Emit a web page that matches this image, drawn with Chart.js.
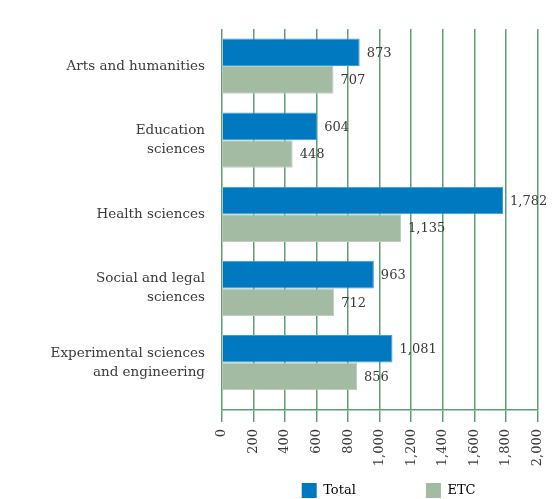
<!DOCTYPE html>
<html><head><meta charset="utf-8">
<script src="https://cdn.jsdelivr.net/npm/chart.js@4"></script>
<style>html,body{margin:0;padding:0;background:#fff;}#wrap{width:560px;height:499px;}</style>
</head><body><div id="wrap"><canvas id="c" width="560" height="499"></canvas></div>
<script>
const categories = [
  ["Arts and humanities"],
  ["Education", "sciences"],
  ["Health sciences"],
  ["Social and legal", "sciences"],
  ["Experimental sciences", "and engineering"]
];
const totalValues = [873, 604, 1782, 963, 1081];
const etcValues = [707, 448, 1135, 712, 856];
const seriesNames = ["Total", "ETC"];
const xTickValues = [0, 200, 400, 600, 800, 1000, 1200, 1400, 1600, 1800, 2000];

const FONT = '"DejaVu Serif", serif';
const TEXT = '#3a3a3a';
const GRID = '#5f9e70';
const fmt = v => String(v).replace(/\B(?=(\d{3})+(?!\d))/g, ',');
const legendPad = ['                ', '              '];

const valueLabels = {
  id: 'valueLabels',
  afterDatasetsDraw(chart) {
    const ctx = chart.ctx;
    ctx.save();
    ctx.font = '13px ' + FONT;
    ctx.fillStyle = TEXT;
    ctx.textAlign = 'left';
    ctx.textBaseline = 'middle';
    chart.data.datasets.forEach((ds, di) => {
      chart.getDatasetMeta(di).data.forEach((bar, i) => {
        ctx.fillText(fmt(ds.data[i].x), bar.x + 7, bar.y + 1);
      });
    });
    ctx.restore();
  }
};

new Chart(document.getElementById('c'), {
  type: 'bar',
  data: {
    datasets: [
      { label: seriesNames[0], data: totalValues.map((v, i) => ({x: v, y: i})),
        backgroundColor: '#0079c1', borderColor: '#3f9bd6', borderWidth: 1,
        categoryPercentage: 0.745, barPercentage: 1 },
      { label: seriesNames[1], data: etcValues.map((v, i) => ({x: v, y: i})),
        backgroundColor: '#a3bba3', borderColor: '#bccdbc', borderWidth: 1,
        categoryPercentage: 0.745, barPercentage: 1 }
    ]
  },
  options: {
    indexAxis: 'y',
    responsive: false,
    animation: false,
    layout: { padding: { top: 29, right: 19, left: 0, bottom: 0 } },
    scales: {
      x: {
        type: 'linear', position: 'bottom', min: 0, max: 2000,
        afterBuildTicks: s => { s.ticks = xTickValues.map(v => ({value: v})); },
        grid: { color: GRID, lineWidth: 1.5, tickLength: 12 },
        border: { display: true, color: GRID, width: 1.5 },
        ticks: { maxRotation: 90, minRotation: 90, padding: 7, color: TEXT,
                 font: { family: FONT, size: 13 }, callback: v => fmt(v) },
        afterFit: s => { s.height = 69; }
      },
      y: {
        type: 'linear', reverse: true, offset: false, min: -0.5, max: 4.64,
        afterBuildTicks: s => { s.ticks = categories.map((_, i) => ({value: i})); },
        grid: { display: false, drawTicks: false }, border: { display: false },
        ticks: { callback: v => categories[v], color: TEXT, padding: 17,
                 font: { family: FONT, size: 13.5, lineHeight: 1.4 } },
        afterFit: s => { s.width = 222; s.paddingTop = 0; s.paddingBottom = 0; }
      }
    },
    plugins: {
      legend: {
        position: 'bottom', align: 'end', fullSize: false, maxHeight: 20,
        labels: {
          boxWidth: 15, boxHeight: 15, padding: 4, color: TEXT,
          font: { family: FONT, size: 13 },
          generateLabels: chart => chart.data.datasets.map((ds, i) => ({
            text: ds.label + legendPad[i], fillStyle: ds.backgroundColor,
            strokeStyle: ds.backgroundColor, lineWidth: 0, datasetIndex: i, hidden: false
          }))
        }
      },
      tooltip: { enabled: false }
    }
  },
  plugins: [valueLabels]
});
</script></body></html>
